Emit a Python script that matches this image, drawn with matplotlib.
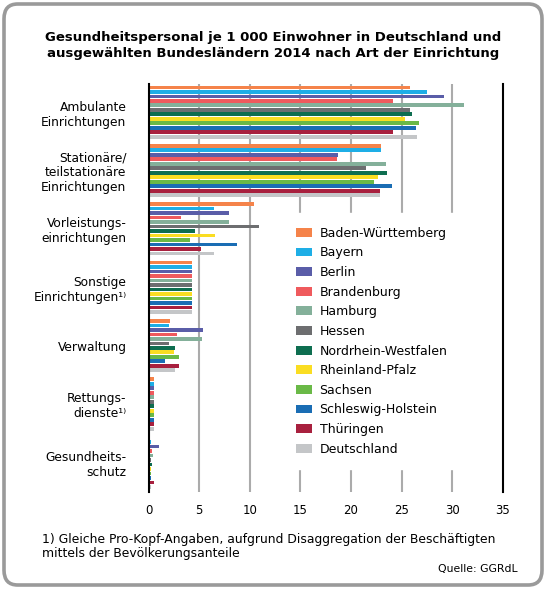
import matplotlib
matplotlib.use("Agg")
import matplotlib.pyplot as plt
from matplotlib.patches import FancyBboxPatch
import numpy as np

plt.rcParams['font.family'] = ['DejaVu Sans']

categories = ["Ambulante\nEinrichtungen",
              "Stationäre/\nteilstationäre\nEinrichtungen",
              "Vorleistungs-\neinrichtungen",
              "Sonstige\nEinrichtungen¹⁾",
              "Verwaltung",
              "Rettungs-\ndienste¹⁾",
              "Gesundheits-\nschutz"]

states = ["Baden-Württemberg", "Bayern", "Berlin", "Brandenburg", "Hamburg",
          "Hessen", "Nordrhein-Westfalen", "Rheinland-Pfalz", "Sachsen",
          "Schleswig-Holstein", "Thüringen", "Deutschland"]

colors = ["#F5834A", "#1EAEE6", "#5A5DA8", "#EF5A5D", "#84B09A", "#6D6E70",
          "#0E6E50", "#FADD22", "#6AB947", "#1A6DB4", "#A8203E", "#C4C6C8"]

# values per state, order of categories
baden_wuerttemberg = [25.8, 23.0, 10.4, 4.3, 2.1, 0.55, 0.1]
bayern             = [27.5, 23.0, 6.5, 4.3, 2.0, 0.55, 0.2]
berlin             = [29.2, 18.7, 7.9, 4.3, 5.4, 0.55, 1.0]
brandenburg        = [24.2, 18.6, 3.2, 4.3, 2.8, 0.55, 0.35]
hamburg            = [31.2, 23.5, 7.9, 4.3, 5.3, 0.55, 0.45]
hessen             = [25.8, 21.5, 10.9, 4.3, 2.0, 0.55, 0.25]
nordrhein_westfalen= [26.0, 23.6, 4.6, 4.3, 2.6, 0.55, 0.35]
rheinland_pfalz    = [25.3, 22.7, 6.6, 4.3, 2.5, 0.55, 0.2]
sachsen            = [26.7, 22.3, 4.1, 4.3, 3.0, 0.55, 0.2]
schleswig_holstein = [26.4, 24.1, 8.7, 4.3, 1.6, 0.55, 0.25]
thueringen         = [24.2, 22.9, 5.2, 4.3, 3.0, 0.55, 0.55]
deutschland        = [26.5, 22.9, 6.5, 4.3, 2.6, 0.55, 0.25]

series = [baden_wuerttemberg, bayern, berlin, brandenburg, hamburg, hessen,
          nordrhein_westfalen, rheinland_pfalz, sachsen, schleswig_holstein,
          thueringen, deutschland]

xticks = [0, 5, 10, 15, 20, 25, 30, 35]

W, H = 547, 591
fig = plt.figure(figsize=(W / 100, H / 100), dpi=100)

# rounded frame
frame = FancyBboxPatch((4 / W, 6 / H), (W - 9) / W, (H - 10) / H,
                       boxstyle="round,pad=0,rounding_size=0.025",
                       transform=fig.transFigure, facecolor="none",
                       edgecolor="#9A9A9A", linewidth=2.6, zorder=-1)
fig.patches.append(frame)

ax = fig.add_axes([148.7 / W, 1 - 492 / H, (502.7 - 148.7) / W, (492 - 84) / H])
ax.set_facecolor("none")

n = len(states)
step = n + 1
group_pos = np.arange(len(categories)) * step
for i, (name, vals, c) in enumerate(zip(states, series, colors)):
    ax.barh(group_pos + i, vals, height=0.82, color=c, label=name, zorder=3)

ax.set_xlim(0, 35)
ax.set_ylim(6 * step + 11 + 1.1, -0.75)
ax.set_xticks(xticks)
ax.set_xticklabels([str(t) for t in xticks], fontsize=8.5)
ax.set_yticks(group_pos + (n - 1) / 2)
ax.set_yticklabels(categories, fontsize=8.8, ha="right")
ax.tick_params(axis="y", length=0, pad=16)
ax.tick_params(axis="x", length=0, pad=9)

for t in xticks[1:-1]:
    ax.axvline(t, color="#ABABAB", linewidth=1.5, zorder=1)

for side in ["top", "bottom"]:
    ax.spines[side].set_visible(False)
ax.spines["left"].set_color("black")
ax.spines["left"].set_linewidth(1.5)
ax.spines["left"].set_zorder(6)
ax.spines["right"].set_color("black")
ax.spines["right"].set_linewidth(1.5)
ax.spines["right"].set_zorder(6)

leg = ax.legend(loc="upper left", bbox_to_anchor=(282 / W, 1 - 213 / H),
                bbox_transform=fig.transFigure, frameon=True, fancybox=False,
                facecolor="white", edgecolor="white", framealpha=1,
                fontsize=9, handlelength=1.3, handleheight=0.72,
                handletextpad=0.6, labelspacing=0.53, borderpad=1.1,
                borderaxespad=0)
leg.set_zorder(5)

fig.text(0.5, 1 - 38 / H, "Gesundheitspersonal je 1 000 Einwohner in Deutschland und",
         ha="center", va="center", fontsize=9.5, fontweight="bold")
fig.text(0.5, 1 - 53 / H, "ausgewählten Bundesländern 2014 nach Art der Einrichtung",
         ha="center", va="center", fontsize=9.5, fontweight="bold")

fig.text(42 / W, 1 - 539 / H,
         "1) Gleiche Pro-Kopf-Angaben, aufgrund Disaggregation der Beschäftigten",
         ha="left", va="center", fontsize=8.9)
fig.text(42 / W, 1 - 553 / H, "mittels der Bevölkerungsanteile",
         ha="left", va="center", fontsize=8.9)
fig.text(518 / W, 1 - 569 / H, "Quelle: GGRdL", ha="right", va="center",
         fontsize=7.8)

fig.savefig("out.png", dpi=100)
